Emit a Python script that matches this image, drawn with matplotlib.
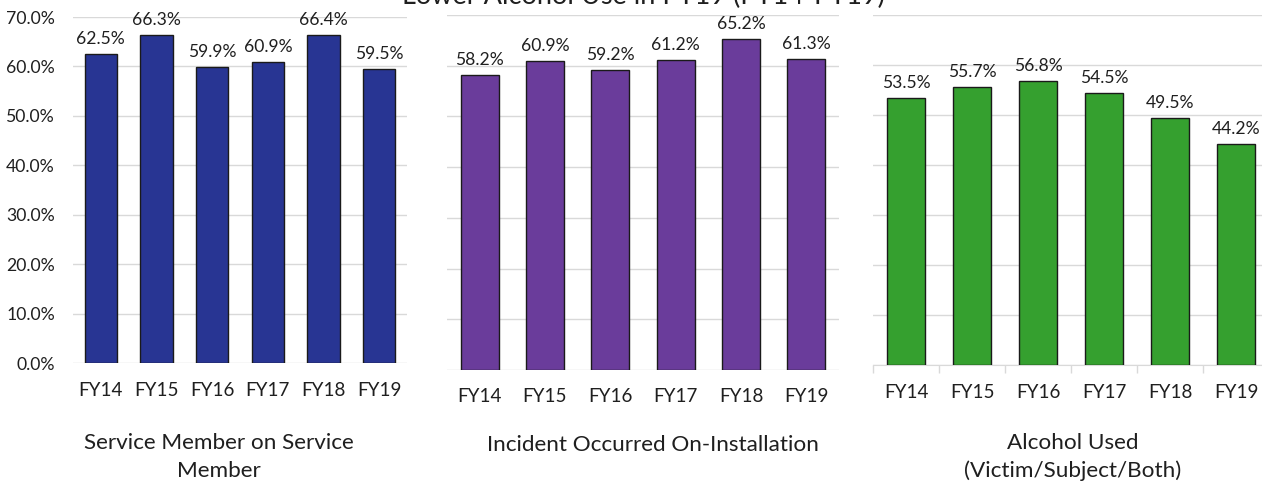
import matplotlib
matplotlib.use("Agg")
import matplotlib.pyplot as plt

years = ["FY14", "FY15", "FY16", "FY17", "FY18", "FY19"]
sm_on_sm = [62.5, 66.3, 59.9, 60.9, 66.4, 59.5]
on_install = [58.2, 60.9, 59.2, 61.2, 65.2, 61.3]
alcohol = [53.5, 55.7, 56.8, 54.5, 49.5, 44.2]
panel_titles = ["Service Member on Service\nMember",
                "Incident Occurred On-Installation",
                "Alcohol Used\n(Victim/Subject/Both)"]
colors = ["#283593", "#6a3c9b", "#35a02f"]
yticks = [0, 10, 20, 30, 40, 50, 60, 70]
title = "Lower Alcohol Use in FY19 (FY14-FY19)"

plt.rcParams['font.family'] = ['Lato', 'DejaVu Sans']
W, H = 1262, 482
fig = plt.figure(figsize=(W / 100, H / 100), dpi=100)
txt = '#1f1f1f'

def rect(l, r, t, b):
    return [l / W, 1 - b / H, (r - l) / W, (b - t) / H]

rects = [rect(73, 407, 17, 363), rect(447, 839, 15, 370), rect(873, 1269, 15, 365)]
data = [sm_on_sm, on_install, alcohol]
title_pos = [(219, 457), (653, 445), (1073, 457)]
xpads = [14, 13, 14]

for i, (rc, vals, col) in enumerate(zip(rects, data, colors)):
    ax = fig.add_axes(rc)
    x = list(range(len(years)))
    ax.bar(x, vals, width=0.58, color=col, edgecolor='#1a1a1a', linewidth=1.0, zorder=3)
    for xi, v in zip(x, vals):
        ax.annotate(f"{v:.1f}%", (xi, v), xytext=(0, 5), textcoords='offset points',
                    ha='center', va='bottom', fontsize=12.6, color=txt)
    ax.set_xlim(-0.5, 5.5)
    ax.set_ylim(0, 70)
    ax.set_yticks(yticks)
    ax.yaxis.grid(True, color='#d9d9d9', linewidth=1)
    ax.set_axisbelow(True)
    for s in ax.spines.values():
        s.set_visible(False)
    ax.set_xticks(x)
    ax.set_xticklabels(years, fontsize=13.5, color=txt)
    ax.tick_params(axis='x', length=0, pad=xpads[i])
    ax.tick_params(axis='y', length=0, pad=13)
    if i == 0:
        ax.set_yticklabels([f"{t:.1f}%" for t in yticks], fontsize=12.7, color=txt)
    else:
        ax.set_yticklabels([])
    if i == 2:
        ax.spines['bottom'].set_visible(True)
        ax.spines['bottom'].set_color('#d9d9d9')
        ax.set_xticks([k - 0.5 for k in range(7)], minor=True)
        ax.tick_params(axis='x', which='minor', length=6, color='#d9d9d9', width=1)
    tx, ty = title_pos[i]
    fig.text(tx / W, 1 - ty / H, panel_titles[i], ha='center', va='center',
             fontsize=16.2, color=txt, linespacing=1.45)

fig.text(643 / W, 1 - 4 / H, title, ha='center', va='baseline', fontsize=19.5, color=txt)

fig.savefig("out.png", dpi=100)
